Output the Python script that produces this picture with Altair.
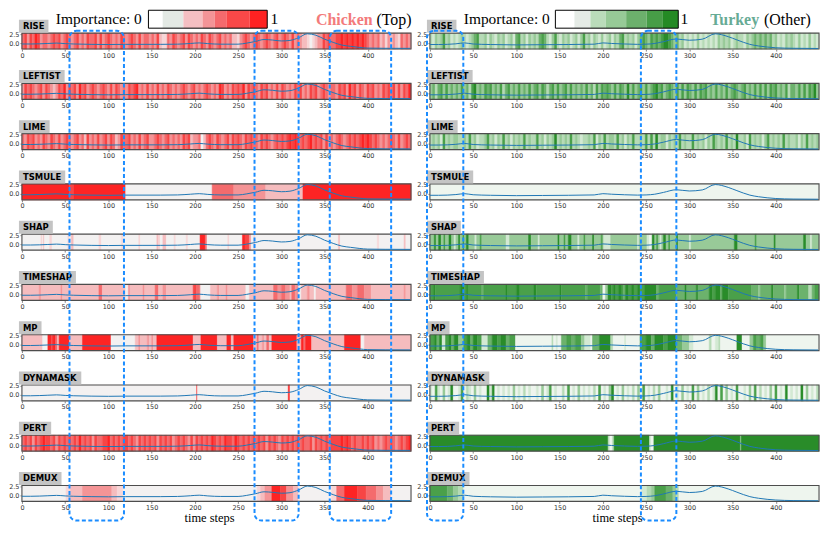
import altair as alt
import pandas as pd

# ---------------- data ----------------
N = 450          # time steps
BIN = 3          # time steps per character in the noisy strings
METHODS = ["RISE", "LEFTIST", "LIME", "TSMULE", "SHAP", "TIMESHAP", "MP", "DYNAMASK", "PERT", "DEMUX"]
X_TICKS = [0, 50, 100, 150, 200, 250, 300, 350, 400]
Y_TICKS = [0, 2.5]
Y_DOMAIN = [-1.67, 2.78]

# time series (Chicken, left)
T_L = [0, 10, 20, 30, 40, 50, 60, 80, 100, 120, 140, 160, 180, 195, 205, 215, 230, 250, 260, 270,
       280, 290, 300, 310, 320, 330, 340, 350, 360, 370, 380, 390, 400, 420, 449]
V_L = [-0.25, -0.25, -0.2, -0.1, 0.0, -0.15, -0.25, -0.35, -0.4, -0.35, -0.35, -0.35, -0.3, -0.1, 0.05,
       -0.15, -0.3, -0.3, 0.0, 0.45, 1.0, 0.85, 0.6, 0.75, 1.5, 2.6, 2.2, 1.1, 0.2, -0.55, -0.9, -1.2,
       -1.4, -1.45, -1.47]
# time series (Turkey, right)
T_R = [0, 10, 20, 30, 40, 50, 70, 100, 130, 160, 190, 200, 210, 225, 240, 250, 260, 270, 285, 300,
       315, 330, 345, 355, 370, 380, 390, 400, 420, 449]
V_R = [-0.4, -0.4, -0.35, -0.2, 0.05, -0.25, -0.4, -0.5, -0.45, -0.4, -0.3, 0.05, -0.1, -0.25, -0.35,
       -0.3, -0.1, 0.4, 1.15, 0.8, 1.1, 2.6, 1.8, 0.9, -0.35, -0.8, -1.1, -1.3, -1.45, -1.5]

# importance levels 0..6 (noisy ones as strings, 1 char = 3 steps; others as base + segments)
HEAT_L = {
    "RISE": "4535465344" "3454534543" "4534354453" "5345434354" "3454353443" "4352114354"
            "3453543435" "4354345343" "4221345434" "5434543453" "4543534322" "1012335454"
            "4556565656" "5654343423" "1323214343",
    "LEFTIST": "3545434535" "4323546354" "5364534543" "4543535434" "3545634353" "4353435434"
               "3454345343" "4543436534" "3545463545" "4354534353" "5434354534" "3545345434"
               "4354536453" "5435453435" "4545353546",
    "LIME": "4354534354" "3543534543" "4534253435" "3453542354" "4534353453" "3454345343"
            "4354523340" "2454354345" "3545435454" "4354543454" "5456565454" "5645453534"
            "3454345454" "5656545434" "3454353454",
    "TSMULE": (0, [(0, 55, 6), (55, 60, 5), (60, 120, 6), (220, 245, 4), (245, 282, 3), (282, 325, 2),
                   (325, 450, 6)]),
    "SHAP": (0, [(22, 24, 1), (25, 26, 2), (32, 35, 1), (53, 55, 1), (57, 60, 2), (89, 92, 1), (115, 117, 1),
                 (135, 137, 1), (156, 158, 2), (158, 160, 1), (163, 167, 2), (176, 178, 1), (190, 192, 1),
                 (206, 212, 6), (212, 214, 4), (238, 240, 1), (255, 258, 6), (258, 263, 5), (263, 265, 3),
                 (268, 270, 1), (366, 368, 2), (411, 413, 1), (442, 444, 2)]),
    "TIMESHAP": (2, [(20, 22, 3), (45, 47, 3), (89, 93, 4), (120, 123, 0), (123, 125, 3), (140, 142, 3),
                     (154, 158, 4), (163, 167, 3), (198, 202, 5), (202, 206, 4), (207, 218, 0), (226, 228, 3),
                     (236, 238, 3), (259, 263, 0), (291, 296, 4), (296, 300, 3), (300, 305, 4), (305, 310, 3),
                     (312, 316, 4), (316, 320, 3), (320, 323, 0), (330, 333, 3), (338, 340, 0), (375, 382, 4),
                     (382, 388, 3), (388, 396, 4), (396, 404, 3), (442, 444, 3)]),
    "MP": (2, [(24, 30, 0), (30, 34, 6), (34, 36, 5), (36, 39, 6), (39, 41, 4), (43, 55, 6), (70, 103, 6),
               (103, 131, 0), (135, 137, 3), (145, 147, 3), (150, 152, 3), (156, 198, 6), (207, 226, 6),
               (237, 242, 6), (245, 268, 6), (272, 274, 4), (278, 280, 3), (283, 286, 4), (289, 318, 6),
               (323, 326, 6), (326, 328, 4), (328, 335, 6), (373, 392, 6), (392, 396, 0)]),
    "DYNAMASK": (0, [(202, 203, 5), (308, 310, 6)]),
    "PERT": "4545354565" "5453545454" "5464545354" "4556454545" "5454354545" "4535454534"
            "5454353545" "4546545465" "5465454545" "4545354543" "5454545454" "4535454545"
            "5556565454" "4545453434" "5454345456",
    "DEMUX": (0, [(51, 56, 1), (56, 70, 2), (70, 104, 3), (104, 110, 2), (110, 117, 1), (272, 276, 1),
                  (276, 281, 2), (281, 289, 3), (289, 299, 6), (299, 306, 5), (306, 314, 3), (314, 320, 2),
                  (358, 364, 1), (364, 373, 4), (373, 388, 6), (388, 398, 5), (398, 410, 4), (410, 418, 3),
                  (418, 427, 2)]),
}
HEAT_R = {
    "RISE": "2132352312" "1232123452" "2313213231" "2314523132" "3245421352" "1323123135"
            "2313213123" "1324523231" "3454354545" "6654342312" "1213121212" "1323231232"
            "2132343434" "3423121323" "2131213121",
    "LEFTIST": "3424535343" "4353425634" "3545343524" "5343534353" "4535424535" "3453534343"
               "5342535454" "3535436353" "4535345645" "3454353535" "4353545343" "5343534543"
               "4534353535" "3545343524" "4353535463",
    "LIME": "2323152323" "3223252312" "2352313252" "3132325232" "2523132362" "3232523212"
            "2325132523" "3252313252" "2325252623" "3132325232" "2523231325" "3232523262"
            "2315232313" "5232325232" "2313252323",
    "TSMULE": (0, []),
    "SHAP": (3, [(5, 7, 6), (10, 13, 6), (16, 18, 5), (22, 25, 6), (28, 30, 1), (33, 35, 6), (38, 40, 5),
                 (42, 45, 6), (52, 54, 1), (58, 60, 5), (88, 92, 1), (114, 117, 6), (125, 127, 1), (148, 150, 6),
                 (155, 157, 5), (160, 164, 6), (171, 173, 1), (178, 180, 5), (188, 190, 6), (198, 200, 5),
                 (201, 209, 1), (240, 242, 1), (251, 254, 1), (254, 257, 0), (257, 260, 6), (262, 264, 5),
                 (266, 268, 1), (270, 273, 6), (276, 278, 5), (285, 287, 6), (300, 302, 1), (352, 356, 6),
                 (376, 378, 5), (398, 400, 6), (432, 435, 6), (440, 442, 1)]),
    "TIMESHAP": (5, [(4, 6, 6), (35, 40, 6), (42, 44, 6), (60, 62, 4), (88, 90, 6), (100, 104, 6), (120, 123, 6),
                     (150, 152, 6), (180, 182, 4), (197, 200, 4), (200, 203, 0), (203, 206, 3), (206, 210, 6),
                     (212, 215, 6), (218, 222, 6), (224, 226, 4), (226, 230, 6), (233, 236, 6), (240, 243, 6),
                     (248, 262, 6), (262, 265, 4), (285, 323, 4), (295, 297, 6), (308, 310, 6), (323, 327, 6),
                     (327, 330, 5), (330, 336, 6), (336, 338, 4), (338, 345, 6), (372, 445, 4), (380, 382, 3),
                     (395, 397, 6), (410, 412, 3), (425, 427, 6), (438, 442, 2)]),
    "MP": (0, [(0, 5, 5), (5, 8, 6), (8, 11, 4), (11, 14, 6), (14, 18, 1), (18, 22, 5), (22, 25, 6), (25, 28, 4),
               (28, 33, 6), (33, 39, 3), (39, 43, 5), (43, 47, 6), (47, 50, 4), (50, 55, 6), (55, 60, 5),
               (60, 67, 1), (67, 72, 4), (72, 78, 6), (78, 82, 5), (82, 88, 6), (88, 92, 4), (92, 99, 5),
               (141, 143, 2), (146, 148, 1), (152, 158, 4), (158, 164, 5), (164, 168, 4), (168, 175, 5),
               (175, 179, 3), (179, 186, 1), (188, 196, 4), (196, 209, 6), (209, 212, 2), (225, 227, 1),
               (243, 250, 5), (250, 256, 6), (256, 260, 4), (260, 270, 6), (270, 275, 5), (275, 285, 6),
               (285, 292, 4), (292, 300, 3), (300, 305, 1), (323, 326, 2), (330, 334, 1), (334, 336, 2),
               (355, 361, 6), (370, 374, 3), (374, 378, 5), (378, 382, 4), (382, 386, 5), (386, 389, 3)]),
    "DYNAMASK": "1051030160" "0150210301" "0061601010" "1030102010" "0103015010" "0205010301"
                "0102050103" "6010301020" "3050102030" "0106010301" "0503010201" "6050301050"
                "0103050201" "0305010601" "0106030102",
    "PERT": (6, [(206, 208, 2), (208, 211, 0), (211, 213, 2), (254, 256, 1), (256, 259, 0), (359, 360, 3)]),
    "DEMUX": (0, [(0, 20, 5), (20, 27, 4), (27, 33, 3), (33, 39, 2), (245, 251, 1), (251, 256, 2),
                  (256, 260, 3), (260, 273, 5), (273, 281, 4), (281, 285, 3), (285, 288, 2)]),
}

# highlighted windows (time steps)
BOXES_L = [(55, 118), (269, 320), (356, 427)]
BOXES_R = [(-3.4, 38.6), (244, 285)]

# colour maps
PAL_L = ["#f3f1f1", "#f7d6d7", "#f5bcbe", "#f49496", "#f46b6d", "#f74545", "#fd2424"]
PAL_R = ["#eef5ee", "#d3e9d3", "#b6dab6", "#98ca98", "#6cb26c", "#4aa04a", "#298c29"]
CB_L = ["#ffffff", "#e3e9e4", "#f4bfc2", "#f39497", "#f46a6d", "#f94848", "#fe2222"]
CB_L_EDGES = [0, 0.12, 0.294, 0.455, 0.559, 0.656, 0.85, 1.0]
CB_R = ["#ffffff", "#e5ebe6", "#badcba", "#97ca97", "#6cb06c", "#479d47", "#248a24"]
CB_R_EDGES = [0, 0.155, 0.285, 0.41, 0.576, 0.742, 0.87, 1.0]

# ---------------- layout ----------------
W, H = 391, 16
PITCH = 50.5
LINE_BLUE = "#1f77b4"
BOX_BLUE = "#1a8cff"
LBL_FS = 8.5
BOLD_W = {"A": .774, "B": .762, "C": .734, "D": .830, "E": .683, "F": .683, "G": .821, "H": .837, "I": .372,
          "J": .372, "K": .775, "L": .637, "M": .995, "N": .837, "O": .850, "P": .733, "Q": .850, "R": .770,
          "S": .720, "T": .682, "U": .812, "V": .774, "W": 1.103, "X": .771, "Y": .724, "Z": .725}

xscale = alt.Scale(domain=[0, N], nice=False, zero=False)
yscale = alt.Scale(domain=Y_DOMAIN, nice=False, zero=False)
ONE = pd.DataFrame({"k": [0]})


def x_axis(title):
    return alt.Axis(values=X_TICKS, labelFontSize=6.5, labelFont="DejaVu Sans", labelColor="#333",
                    tickColor="#333", tickSize=2, tickWidth=0.6, labelPadding=1, domain=False, grid=False,
                    labelFlush=False, title=title, titleFont="Liberation Serif", titleFontSize=12.5,
                    titleFontWeight="normal", titleColor="black", titleX=188, titleY=20.3,
                    titleBaseline="alphabetic", titleAlign="center")


def levels(spec):
    if isinstance(spec, str):
        arr = [int(c) for c in spec for _ in range(BIN)]
    else:
        base, segs = spec
        arr = [base] * N
        for a, b, lv in segs:
            for t in range(max(a, 0), min(b, N)):
                arr[t] = lv
    return arr[:N]


def runs(arr, pal):
    rows, s = [], 0
    for t in range(1, N + 1):
        if t == N or arr[t] != arr[s]:
            rows.append({"t0": s, "t1": t, "c": pal[arr[s]]})
            s = t
    return pd.DataFrame(rows)


def panel(name, spec, pal, T, V, idx, side):
    xa = x_axis("time steps" if idx == 9 else "")

    def X(f):
        return alt.X(f, type="quantitative", scale=xscale, axis=xa)

    heat = alt.Chart(runs(levels(spec), pal)).mark_rect(strokeWidth=0.5).encode(
        x=X("t0"), x2="t1", y=alt.value(0), y2=alt.value(H),
        color=alt.Color("c:N", scale=None), stroke=alt.Stroke("c:N", scale=None))
    frame = alt.Chart(ONE).mark_rect(fillOpacity=0, stroke="#4d4d4d", strokeWidth=1.1).encode(
        x=alt.value(0), x2=alt.value(W), y=alt.value(0), y2=alt.value(H))
    line = alt.Chart(pd.DataFrame({"t": T, "v": V})).mark_line(
        color=LINE_BLUE, strokeWidth=1, interpolate="monotone").encode(
        x=X("t"), y=alt.Y("v:Q", scale=yscale,
                          axis=alt.Axis(values=Y_TICKS, format=".1f", labelFontSize=6.5, labelFont="DejaVu Sans",
                                        labelColor="#333", tickColor="#333", tickSize=2, tickWidth=0.6,
                                        labelPadding=1, domain=False, grid=False, title="")))
    lw = sum(BOLD_W.get(ch, 0.7) for ch in name) * LBL_FS + 8
    lbox = alt.Chart(ONE).mark_rect(color="#c4c4c4").encode(
        x=alt.value(-3), x2=alt.value(-3 + lw), y=alt.value(-13.5), y2=alt.value(-0.5))
    ltxt = alt.Chart(ONE).mark_text(text=name, font="DejaVu Sans", fontWeight="bold", fontSize=LBL_FS,
                                    align="left", baseline="middle", color="black").encode(
        x=alt.value(1), y=alt.value(-7))
    layers = [heat, frame, line, lbox, ltxt]

    if idx == 0:
        if side == "L":
            cols, edges, cb0, cb1 = CB_L, CB_L_EDGES, 146.3, 283.7
            t_imp, t_one, t_name, t_par = 138.6, 287.5, 405.5, 410.0
            nm, nm_col, par = "Chicken", "#f37b7b", "(Top)"
        else:
            cols, edges, cb0, cb1 = CB_R, CB_R_EDGES, 145.1, 287.2
            t_imp, t_one, t_name, t_par = 138.6, 289.8, 380.7, 386.4
            nm, nm_col, par = "Turkey", "#67ab95", "(Other)"
        cb = pd.DataFrame({"t0": [cb0 + e * (cb1 - cb0) for e in edges[:-1]],
                           "t1": [cb0 + e * (cb1 - cb0) for e in edges[1:]], "c": cols})
        cbar = alt.Chart(cb).mark_rect().encode(x=X("t0"), x2="t1", y=alt.value(-23), y2=alt.value(-5),
                                                color=alt.Color("c:N", scale=None))
        cframe = alt.Chart(pd.DataFrame({"t0": [cb0], "t1": [cb1]})).mark_rect(
            fillOpacity=0, stroke="black", strokeWidth=1).encode(
            x=X("t0"), x2="t1", y=alt.value(-23), y2=alt.value(-5))
        txt = pd.DataFrame({"t": [t_imp], "s": ["Importance: 0"]})
        imp = alt.Chart(txt).mark_text(font="Liberation Serif", fontSize=15.5, align="right",
                                       baseline="alphabetic", color="black").encode(
            x=X("t"), y=alt.value(-9.3), text="s:N")
        one = alt.Chart(pd.DataFrame({"t": [t_one], "s": ["1"]})).mark_text(
            font="Liberation Serif", fontSize=15.5, align="left", baseline="alphabetic", color="black").encode(
            x=X("t"), y=alt.value(-9.3), text="s:N")
        nmt = alt.Chart(pd.DataFrame({"t": [t_name], "s": [nm]})).mark_text(
            font="Liberation Serif", fontSize=16, fontWeight="bold", align="right", baseline="alphabetic",
            color=nm_col).encode(x=X("t"), y=alt.value(-8.3), text="s:N")
        prt = alt.Chart(pd.DataFrame({"t": [t_par], "s": [par]})).mark_text(
            font="Liberation Serif", fontSize=16, align="left", baseline="alphabetic", color="black").encode(
            x=X("t"), y=alt.value(-8.3), text="s:N")
        layers += [cbar, cframe, imp, one, nmt, prt]

    if idx == 9:
        boxes = BOXES_L if side == "L" else BOXES_R
        bdf = pd.DataFrame({"t0": [b[0] for b in boxes], "t1": [b[1] for b in boxes]})
        box = alt.Chart(bdf).mark_rect(fillOpacity=0, stroke=BOX_BLUE, strokeWidth=2, strokeDash=[4, 2.5],
                                       cornerRadius=7).encode(
            x=X("t0"), x2="t1", y=alt.value(-(9 * PITCH + 2.3)), y2=alt.value(H + 19.3))
        layers.append(box)

    return alt.layer(*layers).properties(width=W, height=H)


panels = []
for i, m in enumerate(METHODS):
    panels.append(panel(m, HEAT_L[m], PAL_L, T_L, V_L, i, "L"))
    panels.append(panel(m, HEAT_R[m], PAL_R, T_R, V_R, i, "R"))

chart = alt.concat(*panels, columns=2, spacing={"row": PITCH - H, "column": 19}, bounds="flush").properties(
    padding={"left": 0, "top": 0, "right": 2, "bottom": 2}
).configure_view(strokeWidth=0)

chart.save("out.html", embed_options={"renderer": "svg", "actions": False})
